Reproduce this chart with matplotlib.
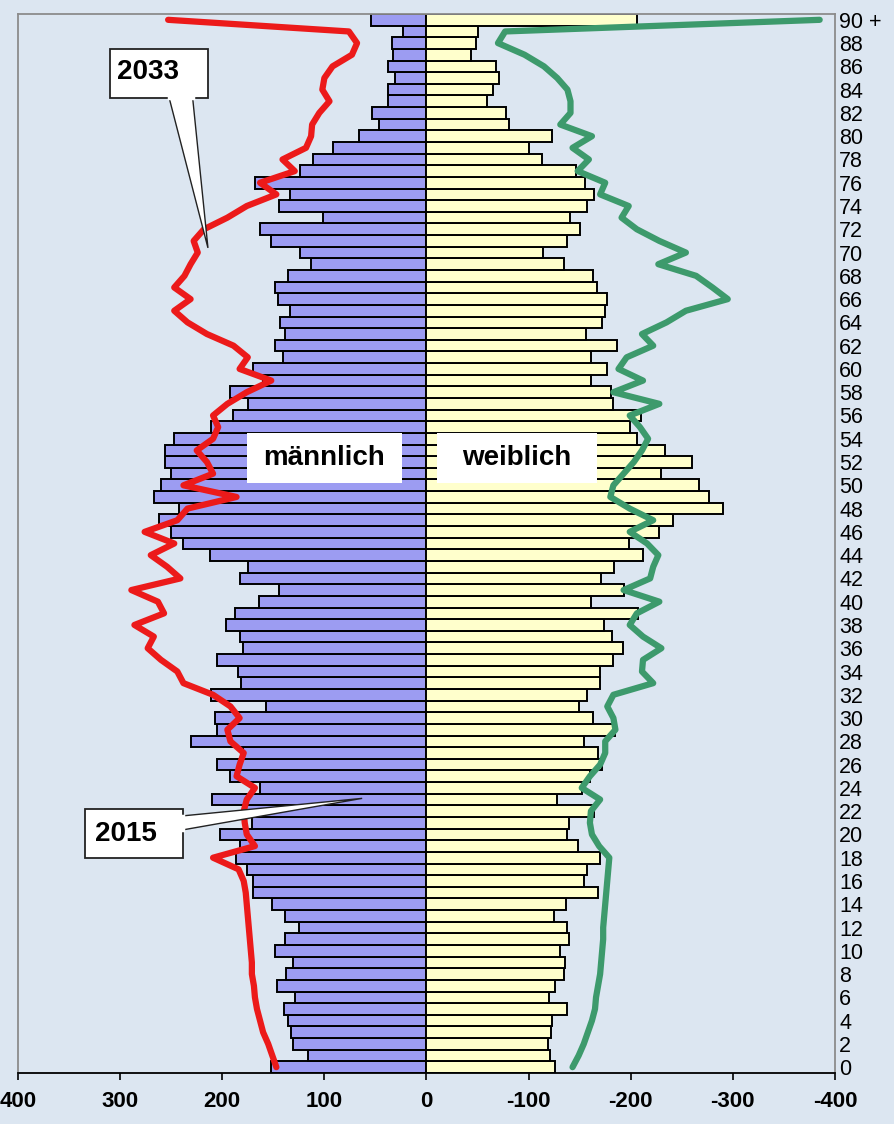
import matplotlib
matplotlib.use("Agg")
import matplotlib.pyplot as plt
from matplotlib.patches import Rectangle, Polygon
import numpy as np

plt.rcParams['font.family'] = ['Liberation Sans', 'DejaVu Sans']

ages = list(range(0, 91))
age_labels = [str(a) if a < 90 else "90 +" for a in range(0, 91, 2)]
x_ticks = [400, 300, 200, 100, 0, -100, -200, -300, -400]
x_tick_labels = ["400", "300", "200", "100", "0", "-100", "-200", "-300", "-400"]

male_2015 = [152, 116, 131, 133, 136, 140, 129, 146, 138, 131,
             148, 139, 125, 139, 151, 170, 170, 176, 187, 183,
             202, 171, 180, 210, 163, 192, 205, 180, 231, 205,
             207, 157, 211, 182, 185, 205, 180, 183, 196, 188,
             164, 144, 183, 175, 212, 238, 250, 262, 242, 267,
             260, 250, 256, 256, 247, 211, 189, 175, 192, 160,
             170, 141, 148, 139, 143, 134, 145, 148, 136, 113,
             124, 152, 163, 101, 144, 134, 168, 124, 111, 92,
             66, 47, 53, 38, 38, 31, 38, 33, 34, 23, 54]

female_2015 = [126, 121, 119, 122, 123, 138, 120, 126, 135, 136,
               131, 140, 138, 125, 137, 168, 154, 157, 170, 148,
               138, 140, 164, 128, 152, 160, 172, 168, 154, 185,
               163, 149, 157, 170, 170, 183, 192, 182, 174, 207,
               161, 193, 171, 184, 212, 198, 228, 241, 290, 277,
               267, 230, 260, 234, 206, 199, 210, 183, 181, 161,
               177, 161, 187, 156, 172, 175, 177, 167, 163, 135,
               114, 138, 150, 141, 157, 164, 155, 146, 113, 100,
               123, 81, 78, 59, 65, 71, 68, 44, 48, 50, 206]

male_2033 = [147, 151, 155, 160, 163, 166, 168, 169, 171, 171,
             172, 173, 174, 175, 176, 177, 179, 184, 209, 168,
             176, 178, 179, 176, 168, 186, 183, 179, 192, 195,
             183, 192, 209, 238, 244, 260, 273, 267, 286, 257,
             263, 289, 241, 254, 270, 247, 276, 244, 234, 186,
             238, 209, 215, 225, 209, 204, 209, 195, 176, 152,
             183, 175, 189, 215, 234, 247, 231, 247, 237, 231,
             224, 228, 218, 195, 176, 147, 163, 129, 141, 118,
             113, 112, 105, 95, 102, 100, 92, 73, 68, 76, 253]

female_2033 = [143, 149, 154, 158, 162, 165, 166, 168, 170, 171,
               172, 173, 173, 174, 175, 176, 177, 178, 179, 169,
               162, 160, 161, 170, 152, 160, 170, 175, 175, 185,
               183, 177, 183, 222, 211, 212, 230, 212, 199, 206,
               228, 193, 219, 222, 227, 216, 199, 222, 199, 180,
               183, 193, 203, 211, 217, 209, 199, 228, 183, 212,
               188, 196, 222, 211, 235, 254, 295, 280, 264, 227,
               254, 228, 206, 191, 198, 170, 175, 148, 159, 143,
               162, 131, 141, 141, 138, 128, 115, 96, 70, 77, 385]

BG = "#dce6f1"
MALE_C = "#9c9cf2"
FEMALE_C = "#ffffcc"
RED = "#ec1a1a"
GREEN = "#3d9a6c"

fig = plt.figure(figsize=(8.95, 11.24), dpi=100, facecolor=BG)
ax = fig.add_axes([18/895, 1 - 1073/1124, (835-18)/895, (1073-14)/1124])
ax.set_facecolor(BG)

ax.barh(ages, male_2015, height=1.0, color=MALE_C, edgecolor="black", linewidth=1.4, zorder=2)
ax.barh(ages, [-v for v in female_2015], height=1.0, color=FEMALE_C, edgecolor="black", linewidth=1.4, zorder=2)

ax.plot(male_2033, ages, color=RED, lw=4.5, solid_joinstyle="round", solid_capstyle="round", zorder=3)
ax.plot([-v for v in female_2033], ages, color=GREEN, lw=4.5, solid_joinstyle="round", solid_capstyle="round", zorder=3)

ax.set_xlim(400, -400)
ax.set_ylim(-0.5, 90.5)

ax.set_xticks(x_ticks)
ax.set_xticklabels(x_tick_labels, fontsize=16, fontweight="bold")
ax.tick_params(axis="x", direction="out", length=5, width=1.2, pad=8, colors="black")

ax.yaxis.tick_right()
ax.set_yticks(list(range(0, 91, 2)))
ax.set_yticklabels(age_labels, fontsize=15.5)
ax.tick_params(axis="y", length=0, pad=3)

for s in ["left", "top", "right"]:
    ax.spines[s].set_color("#8c8c8c")
    ax.spines[s].set_linewidth(1.3)
ax.spines["bottom"].set_color("black")
ax.spines["bottom"].set_linewidth(1.3)

# gender labels
ax.add_patch(Rectangle((176, 50.2), -152, 4.3, facecolor="white", edgecolor="none", zorder=4))
ax.text(100, 52.35, "männlich", ha="center", va="center", fontsize=20, fontweight="bold", zorder=5)
ax.add_patch(Rectangle((-10, 50.2), -157, 4.3, facecolor="white", edgecolor="none", zorder=4))
ax.text(-88, 52.35, "weiblich", ha="center", va="center", fontsize=20, fontweight="bold", zorder=5)

# 2033 callout
ax.add_patch(Polygon([(252, 83.3), (229, 83.3), (214, 70.4)], closed=True,
                     facecolor="white", edgecolor="#222222", linewidth=1.0, zorder=4))
ax.add_patch(Rectangle((310, 83.3), -96, 4.2, facecolor="white", edgecolor="#222222", linewidth=1.3, zorder=4))
ax.plot([252, 229], [83.3, 83.3], color="white", lw=2.5, zorder=4.5)
ax.text(303, 85.5, "2033", ha="left", va="center", fontsize=20, fontweight="bold", zorder=5)

# 2015 callout
ax.add_patch(Polygon([(238, 21.6), (238, 20.4), (63, 23.1)], closed=True,
                     facecolor="white", edgecolor="#222222", linewidth=1.0, zorder=4))
ax.add_patch(Rectangle((334, 18.0), -96, 4.2, facecolor="white", edgecolor="#222222", linewidth=1.3, zorder=4))
ax.plot([238, 238], [21.6, 20.4], color="white", lw=2.5, zorder=4.5)
ax.text(325, 20.0, "2015", ha="left", va="center", fontsize=20, fontweight="bold", zorder=5)

fig.savefig("out.png", dpi=100, facecolor=BG)
